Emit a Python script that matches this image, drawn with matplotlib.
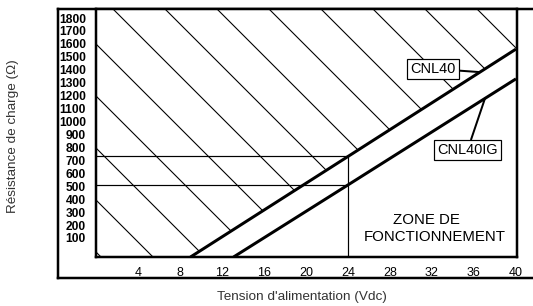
import numpy as np
import matplotlib
matplotlib.use('Agg')
import matplotlib.pyplot as plt

# Données
tension_ticks = [4, 8, 12, 16, 20, 24, 28, 32, 36, 40]
resistance_ticks = list(range(100, 1900, 100))

# Droites de charge maximale : tension (V) -> résistance (Ohm)
cnl40_v = [9.0, 24, 40]
cnl40_r = [-47, 730, 1560]
cnl40ig_v = [13.1, 24, 40]
cnl40ig_r = [-47, 510, 1330]

# Point de fonctionnement à 24 V
v_nominal = 24
r_nominal_cnl40 = 730
r_nominal_cnl40ig = 510

x_min, x_max = 0, 40.1
y_min, y_max = -47, 1870

# Taille en pixels -> points (le dpi règle aussi l'écart des hachures)
DPI = 156
W, H = 533, 306


def px(p):
    return p * 72 / DPI


plt.rcParams['font.family'] = ['Liberation Sans', 'DejaVu Sans']
plt.rcParams['hatch.linewidth'] = px(1.1)
plt.rcParams['hatch.color'] = 'black'

fig = plt.figure(figsize=(W / DPI, H / DPI), dpi=DPI)

# Cadre extérieur
frame = fig.add_axes([58 / W, 1 - 278 / H, 1 - 58 / W, (278 - 9) / H])
frame.set_xticks([])
frame.set_yticks([])
frame.spines['right'].set_visible(False)
for s in ['left', 'top', 'bottom']:
    frame.spines[s].set_linewidth(px(2.5))

# Zone du graphique
ax = fig.add_axes([96 / W, 1 - 257 / H, (517 - 96) / W, (257 - 9) / H])
ax.set_xlim(x_min, x_max)
ax.set_ylim(y_min, y_max)
for s in ax.spines.values():
    s.set_linewidth(px(2.5))

# Zone interdite hachurée (au-dessus de la droite CNL40)
zone_v = [x_min] + cnl40_v
zone_r = [y_min] + cnl40_r
ax.fill_between(zone_v, zone_r, y_max, facecolor='none', edgecolor='black',
                linewidth=0, hatch='\\', zorder=1)

# Repères à 24 V
ax.hlines([r_nominal_cnl40, r_nominal_cnl40ig], x_min, v_nominal,
          color='black', linewidth=px(1.2), zorder=2)
ax.vlines(v_nominal, y_min, r_nominal_cnl40, color='black', linewidth=px(1.2), zorder=2)

# Droites de charge
ax.plot(cnl40_v, cnl40_r, color='black', linewidth=px(3), solid_capstyle='butt', zorder=3)
ax.plot(cnl40ig_v, cnl40ig_r, color='black', linewidth=px(3), solid_capstyle='butt', zorder=3)

# Étiquettes
box = dict(boxstyle='square,pad=0.2', fc='white', ec='black', lw=px(1.2))
leader = dict(arrowstyle='-', lw=px(2), color='black', shrinkA=0, shrinkB=0)
ax.annotate('CNL40', xy=(36.57, np.interp(36.57, cnl40_v, cnl40_r)), xytext=(32.1, 1408),
            ha='center', va='center', fontsize=px(14.5), bbox=box, arrowprops=leader, zorder=4)
ax.annotate('CNL40IG', xy=(37.05, np.interp(37.05, cnl40ig_v, cnl40ig_r)), xytext=(35.4, 783),
            ha='center', va='center', fontsize=px(14.5), bbox=box, arrowprops=leader, zorder=4)

ax.text(31.5, 240, 'ZONE DE', ha='center', va='center', fontsize=px(15))
ax.text(32.3, 108, 'FONCTIONNEMENT', ha='center', va='center', fontsize=px(15))

# Graduations
ax.set_xticks(tension_ticks)
ax.set_yticks(resistance_ticks)
ax.tick_params(length=0)
ax.tick_params(axis='y', pad=px(10), labelsize=px(12))
ax.tick_params(axis='x', pad=px(10), labelsize=px(12.5))
for lbl in ax.get_yticklabels():
    lbl.set_fontweight('bold')

# Titres des axes
fig.text(13 / W, 1 - 136 / H, 'Résistance de charge (Ω)', rotation=90,
         ha='center', va='center', fontsize=px(13.5), color='#333333')
fig.text(302 / W, 1 - 297 / H, "Tension d'alimentation (Vdc)",
         ha='center', va='center', fontsize=px(13.5), color='#333333')

fig.savefig('out.png', dpi=DPI)
